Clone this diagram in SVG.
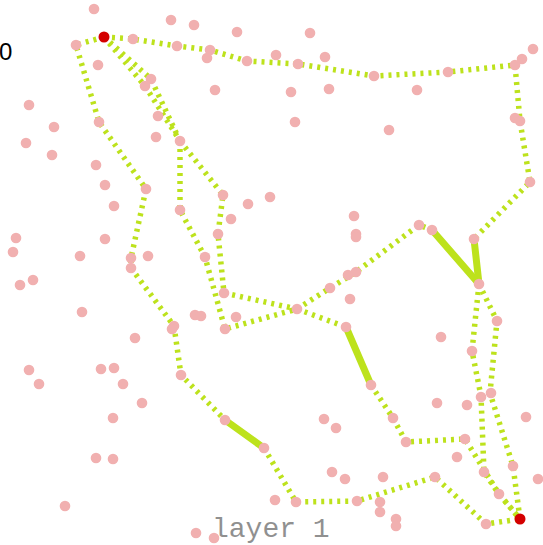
<svg xmlns="http://www.w3.org/2000/svg" width="543" height="545" viewBox="0 0 543 545">
<style>
.d{fill:none;stroke:#bde21c;stroke-width:5.5;stroke-dasharray:3 5;stroke-linejoin:round}
.s{fill:none;stroke:#bde21c;stroke-width:7;stroke-linecap:round}
.p{fill:#f1b0b0}
.r{fill:#d40000}
.lbl{font-family:"Liberation Mono",monospace;font-size:28px;fill:#909090}
.ax{font-family:"Liberation Sans",Arial,sans-serif;font-size:24px;fill:#000}
</style>
<rect width="543" height="545" fill="#fff"/>
<text class="ax" x="-1" y="60">0</text>
<g id="connectors">
<polyline class="d" points="104,37 133,39 177,46 210,50 247,61 298,64 374,76 448,72 515,65 520,121 530,182 474,239"/>
<polyline class="d" points="104,37 76,45 99,122 146,189 131,258 131,268 174,326 181,375 225,420"/>
<line class="s" x1="225" y1="420" x2="264" y2="448"/>
<polyline class="d" points="264,448 296,502 357,501 435,477 486,524 520,519"/>
<polyline class="d" points="104,37 151,79 180,141"/>
<polyline class="d" points="104,37 145,86 180,141"/>
<polyline class="d" points="180,141 180,210 205,257 225,329 297,309"/>
<polyline class="d" points="180,141 223,195 218,234 224,293 297,309"/>
<polyline class="d" points="297,309 330,288 356,272 419,225 432,230"/>
<line class="s" x1="432" y1="230" x2="479" y2="284"/>
<line class="s" x1="474" y1="239" x2="479" y2="284"/>
<polyline class="d" points="297,309 346,327"/>
<line class="s" x1="346" y1="327" x2="371" y2="385"/>
<polyline class="d" points="371,385 393,418 406,442 465,439 499,494 520,519"/>
<polyline class="d" points="479,284 472,351 481,396 484,472 499,494 520,519"/>
<polyline class="d" points="479,284 497,321 490,393 513,466 520,519"/>
</g>
<g id="nodes">
<g id="n1"><circle class="p" cx="94" cy="9" r="5.3"/></g>
<g id="n2"><circle class="p" cx="171" cy="20" r="5.3"/></g>
<g id="n3"><circle class="p" cx="194" cy="25" r="5.3"/></g>
<g id="n4"><circle class="p" cx="237" cy="32" r="5.3"/></g>
<g id="n5"><circle class="p" cx="310" cy="33" r="5.3"/></g>
<g id="n6"><circle class="p" cx="76" cy="45" r="5.3"/></g>
<g id="n7"><circle class="p" cx="133" cy="39" r="5.3"/></g>
<g id="n8"><circle class="p" cx="177" cy="46" r="5.3"/></g>
<g id="n9"><circle class="p" cx="210" cy="50" r="5.3"/></g>
<g id="n10"><circle class="p" cx="207" cy="58" r="5.3"/></g>
<g id="n11"><circle class="p" cx="247" cy="61" r="5.3"/></g>
<g id="n12"><circle class="p" cx="276" cy="55" r="5.3"/></g>
<g id="n13"><circle class="p" cx="298" cy="64" r="5.3"/></g>
<g id="n14"><circle class="p" cx="325" cy="57" r="5.3"/></g>
<g id="n15"><circle class="p" cx="374" cy="76" r="5.3"/></g>
<g id="n16"><circle class="p" cx="448" cy="72" r="5.3"/></g>
<g id="n17"><circle class="p" cx="417" cy="90" r="5.3"/></g>
<g id="n18"><circle class="p" cx="389" cy="130" r="5.3"/></g>
<g id="n19"><circle class="p" cx="515" cy="65" r="5.3"/></g>
<g id="n20"><circle class="p" cx="522" cy="59" r="5.3"/></g>
<g id="n21"><circle class="p" cx="533" cy="49" r="5.3"/></g>
<g id="n22"><circle class="p" cx="515" cy="118" r="5.3"/></g>
<g id="n23"><circle class="p" cx="520" cy="121" r="5.3"/></g>
<g id="n24"><circle class="p" cx="530" cy="182" r="5.3"/></g>
<g id="n25"><circle class="p" cx="98" cy="65" r="5.3"/></g>
<g id="n26"><circle class="p" cx="151" cy="79" r="5.3"/></g>
<g id="n27"><circle class="p" cx="145" cy="86" r="5.3"/></g>
<g id="n28"><circle class="p" cx="215" cy="90" r="5.3"/></g>
<g id="n29"><circle class="p" cx="291" cy="92" r="5.3"/></g>
<g id="n30"><circle class="p" cx="329" cy="89" r="5.3"/></g>
<g id="n31"><circle class="p" cx="295" cy="122" r="5.3"/></g>
<g id="n32"><circle class="p" cx="29" cy="105" r="5.3"/></g>
<g id="n33"><circle class="p" cx="54" cy="127" r="5.3"/></g>
<g id="n34"><circle class="p" cx="26" cy="143" r="5.3"/></g>
<g id="n35"><circle class="p" cx="52" cy="155" r="5.3"/></g>
<g id="n36"><circle class="p" cx="99" cy="122" r="5.3"/></g>
<g id="n37"><circle class="p" cx="158" cy="116" r="5.3"/></g>
<g id="n38"><circle class="p" cx="156" cy="137" r="5.3"/></g>
<g id="n39"><circle class="p" cx="180" cy="141" r="5.3"/></g>
<g id="n40"><circle class="p" cx="96" cy="165" r="5.3"/></g>
<g id="n41"><circle class="p" cx="105" cy="185" r="5.3"/></g>
<g id="n42"><circle class="p" cx="146" cy="189" r="5.3"/></g>
<g id="n43"><circle class="p" cx="114" cy="206" r="5.3"/></g>
<g id="n44"><circle class="p" cx="16" cy="238" r="5.3"/></g>
<g id="n45"><circle class="p" cx="13" cy="252" r="5.3"/></g>
<g id="n46"><circle class="p" cx="105" cy="239" r="5.3"/></g>
<g id="n47"><circle class="p" cx="80" cy="256" r="5.3"/></g>
<g id="n48"><circle class="p" cx="131" cy="258" r="5.3"/></g>
<g id="n49"><circle class="p" cx="148" cy="256" r="5.3"/></g>
<g id="n50"><circle class="p" cx="131" cy="268" r="5.3"/></g>
<g id="n51"><circle class="p" cx="33" cy="280" r="5.3"/></g>
<g id="n52"><circle class="p" cx="20" cy="285" r="5.3"/></g>
<g id="n53"><circle class="p" cx="82" cy="312" r="5.3"/></g>
<g id="n54"><circle class="p" cx="174" cy="326" r="5.3"/></g>
<g id="n55"><circle class="p" cx="172" cy="329" r="5.3"/></g>
<g id="n56"><circle class="p" cx="135" cy="338" r="5.3"/></g>
<g id="n57"><circle class="p" cx="180" cy="210" r="5.3"/></g>
<g id="n58"><circle class="p" cx="223" cy="195" r="5.3"/></g>
<g id="n59"><circle class="p" cx="248" cy="204" r="5.3"/></g>
<g id="n60"><circle class="p" cx="270" cy="197" r="5.3"/></g>
<g id="n61"><circle class="p" cx="231" cy="219" r="5.3"/></g>
<g id="n62"><circle class="p" cx="218" cy="234" r="5.3"/></g>
<g id="n63"><circle class="p" cx="205" cy="257" r="5.3"/></g>
<g id="n64"><circle class="p" cx="354" cy="216" r="5.3"/></g>
<g id="n65"><circle class="p" cx="356" cy="234" r="5.3"/></g>
<g id="n66"><circle class="p" cx="356" cy="237" r="5.3"/></g>
<g id="n67"><circle class="p" cx="348" cy="275" r="5.3"/></g>
<g id="n68"><circle class="p" cx="356" cy="272" r="5.3"/></g>
<g id="n69"><circle class="p" cx="330" cy="288" r="5.3"/></g>
<g id="n70"><circle class="p" cx="350" cy="299" r="5.3"/></g>
<g id="n71"><circle class="p" cx="224" cy="293" r="5.3"/></g>
<g id="n72"><circle class="p" cx="297" cy="309" r="5.3"/></g>
<g id="n73"><circle class="p" cx="195" cy="315" r="5.3"/></g>
<g id="n74"><circle class="p" cx="201" cy="316" r="5.3"/></g>
<g id="n75"><circle class="p" cx="236" cy="317" r="5.3"/></g>
<g id="n76"><circle class="p" cx="225" cy="329" r="5.3"/></g>
<g id="n77"><circle class="p" cx="346" cy="327" r="5.3"/></g>
<g id="n78"><circle class="p" cx="419" cy="225" r="5.3"/></g>
<g id="n79"><circle class="p" cx="432" cy="230" r="5.3"/></g>
<g id="n80"><circle class="p" cx="474" cy="239" r="5.3"/></g>
<g id="n81"><circle class="p" cx="479" cy="284" r="5.3"/></g>
<g id="n82"><circle class="p" cx="497" cy="321" r="5.3"/></g>
<g id="n83"><circle class="p" cx="441" cy="337" r="5.3"/></g>
<g id="n84"><circle class="p" cx="472" cy="351" r="5.3"/></g>
<g id="n85"><circle class="p" cx="29" cy="370" r="5.3"/></g>
<g id="n86"><circle class="p" cx="39" cy="384" r="5.3"/></g>
<g id="n87"><circle class="p" cx="101" cy="369" r="5.3"/></g>
<g id="n88"><circle class="p" cx="114" cy="368" r="5.3"/></g>
<g id="n89"><circle class="p" cx="123" cy="384" r="5.3"/></g>
<g id="n90"><circle class="p" cx="142" cy="403" r="5.3"/></g>
<g id="n91"><circle class="p" cx="113" cy="418" r="5.3"/></g>
<g id="n92"><circle class="p" cx="96" cy="458" r="5.3"/></g>
<g id="n93"><circle class="p" cx="113" cy="459" r="5.3"/></g>
<g id="n94"><circle class="p" cx="65" cy="506" r="5.3"/></g>
<g id="n95"><circle class="p" cx="181" cy="375" r="5.3"/></g>
<g id="n96"><circle class="p" cx="225" cy="420" r="5.3"/></g>
<g id="n97"><circle class="p" cx="264" cy="448" r="5.3"/></g>
<g id="n98"><circle class="p" cx="324" cy="419" r="5.3"/></g>
<g id="n99"><circle class="p" cx="336" cy="428" r="5.3"/></g>
<g id="n100"><circle class="p" cx="332" cy="472" r="5.3"/></g>
<g id="n101"><circle class="p" cx="345" cy="479" r="5.3"/></g>
<g id="n102"><circle class="p" cx="275" cy="500" r="5.3"/></g>
<g id="n103"><circle class="p" cx="296" cy="502" r="5.3"/></g>
<g id="n104"><circle class="p" cx="357" cy="501" r="5.3"/></g>
<g id="n105"><circle class="p" cx="196" cy="533" r="5.3"/></g>
<g id="n106"><circle class="p" cx="214" cy="538" r="5.3"/></g>
<g id="n107"><circle class="p" cx="371" cy="385" r="5.3"/></g>
<g id="n108"><circle class="p" cx="437" cy="403" r="5.3"/></g>
<g id="n109"><circle class="p" cx="467" cy="405" r="5.3"/></g>
<g id="n110"><circle class="p" cx="481" cy="397" r="5.3"/></g>
<g id="n111"><circle class="p" cx="491" cy="393" r="5.3"/></g>
<g id="n112"><circle class="p" cx="526" cy="417" r="5.3"/></g>
<g id="n113"><circle class="p" cx="393" cy="418" r="5.3"/></g>
<g id="n114"><circle class="p" cx="406" cy="442" r="5.3"/></g>
<g id="n115"><circle class="p" cx="465" cy="439" r="5.3"/></g>
<g id="n116"><circle class="p" cx="457" cy="457" r="5.3"/></g>
<g id="n117"><circle class="p" cx="513" cy="466" r="5.3"/></g>
<g id="n118"><circle class="p" cx="484" cy="472" r="5.3"/></g>
<g id="n119"><circle class="p" cx="538" cy="479" r="5.3"/></g>
<g id="n120"><circle class="p" cx="383" cy="477" r="5.3"/></g>
<g id="n121"><circle class="p" cx="435" cy="477" r="5.3"/></g>
<g id="n122"><circle class="p" cx="380" cy="502" r="5.3"/></g>
<g id="n123"><circle class="p" cx="380" cy="512" r="5.3"/></g>
<g id="n124"><circle class="p" cx="396" cy="519" r="5.3"/></g>
<g id="n125"><circle class="p" cx="396" cy="526" r="5.3"/></g>
<g id="n126"><circle class="p" cx="499" cy="494" r="5.3"/></g>
<g id="n127"><circle class="p" cx="486" cy="524" r="5.3"/></g>
<g id="start"><circle class="r" cx="104" cy="37" r="5.5"/></g>
<g id="end"><circle class="r" cx="520" cy="519" r="5.5"/></g>
</g>
<text class="lbl" x="212" y="537">layer 1</text>
</svg>
